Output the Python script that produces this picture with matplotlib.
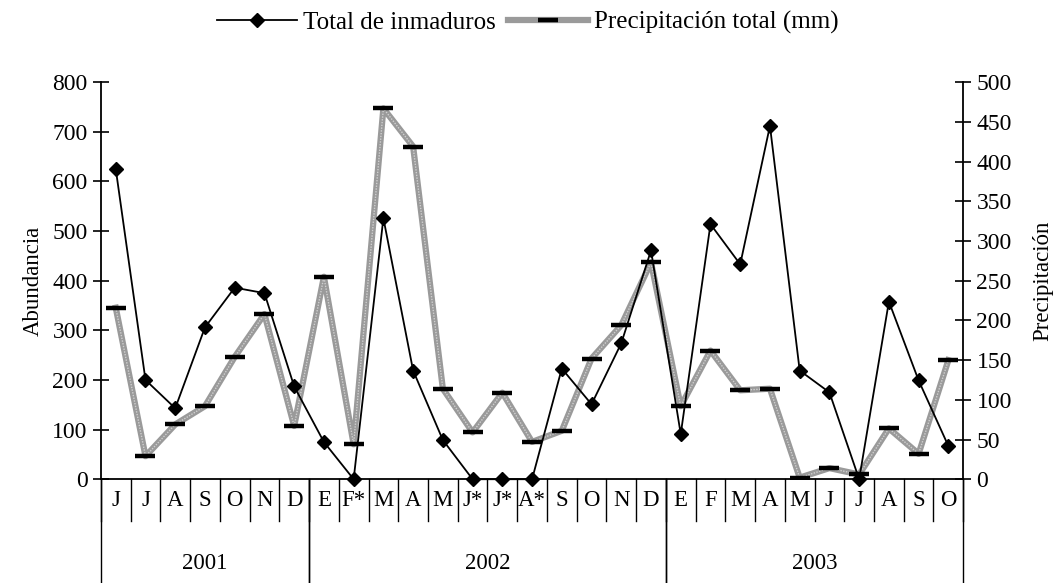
import matplotlib
matplotlib.use("Agg")
import matplotlib.pyplot as plt
from matplotlib.lines import Line2D

plt.rcParams['font.family'] = ['Liberation Serif', 'DejaVu Serif']

meses = ["J", "J", "A", "S", "O", "N", "D",
         "E", "F*", "M", "A", "M", "J*", "J*", "A*", "S", "O", "N", "D",
         "E", "F", "M", "A", "M", "J", "J", "A", "S", "O"]
anios = ["2001", "2002", "2003"]
meses_por_anio = [7, 12, 10]

inmaduros = [625, 200, 143, 306, 386, 375, 187,
             75, 0, 526, 219, 79, 0, 0, 0, 223, 151, 274, 461,
             91, 514, 433, 712, 219, 175, 0, 358, 199, 67]
precipitacion = [216, 29, 69, 92, 154, 208, 67,
                 255, 44, 467, 419, 114, 59, 109, 47, 61, 152, 194, 273,
                 92, 162, 112, 114, 2, 14, 6, 64, 32, 150]

x = list(range(len(meses)))
fs = 16.5

fig = plt.figure(figsize=(10.62, 5.83), dpi=100)
ax = fig.add_axes([0.095, 0.178, 0.812, 0.681])
ax2 = ax.twinx()

# precipitacion (eje derecho)
ax2.plot(x, precipitacion, color="#9a9a9a", lw=4.5, zorder=2)
ax2.plot(x, precipitacion, color="#d0d0d0", lw=1, ls=(0, (1, 1)), zorder=2)
ax2.plot(x, precipitacion, ls="none", marker="_", ms=15, mew=3.2, color="black", zorder=3)
ax2.set_ylim(0, 500)
ax2.set_yticks(range(0, 501, 50))
ax2.set_ylabel("Precipitación", fontsize=fs, labelpad=15)

# inmaduros (eje izquierdo) encima
ax.set_zorder(ax2.get_zorder() + 1)
ax.patch.set_visible(False)
ax.plot(x, inmaduros, color="black", lw=1.3, marker="D", ms=7.5, clip_on=False, zorder=4)
ax.set_ylim(0, 800)
ax.set_yticks(range(0, 801, 100))
ax.set_ylabel("Abundancia", fontsize=fs, labelpad=6)
ax.set_xlim(-0.5, len(meses) - 0.5)
ax.set_xticks([])

for a in (ax, ax2):
    a.spines['top'].set_visible(False)
    a.tick_params(axis='y', direction='inout', length=11, width=1.2, labelsize=17, pad=4)
    for s in a.spines.values():
        s.set_linewidth(1.3)
ax2.spines['left'].set_visible(False)
ax2.spines['bottom'].set_visible(False)
ax.spines['right'].set_visible(False)

# etiquetas de meses y años
tr = ax.get_xaxis_transform()
for i, m in enumerate(meses):
    ax.text(i, -0.053, m, transform=tr, ha="center", va="center", fontsize=fs)
for k in range(len(meses) + 1):
    ax.plot([k - 0.5, k - 0.5], [0, -0.106], transform=tr, color="black", lw=1, clip_on=False)

inicio = -0.5
for anio, n in zip(anios, meses_por_anio):
    fin = inicio + n
    ax.text((inicio + fin) / 2, -0.212, anio, transform=tr, ha="center", va="center", fontsize=fs)
    ax.plot([inicio, inicio], [0, -0.265], transform=tr, color="black", lw=1, clip_on=False)
    ax.plot([fin, fin], [0, -0.265], transform=tr, color="black", lw=1, clip_on=False)
    inicio = fin

# leyenda
h1 = Line2D([], [], color="black", lw=1.3, marker="D", ms=7)
h2 = Line2D([], [], color="#9a9a9a", lw=4.5, marker="_", ms=15, mew=3.2, mec="black")
fig.legend([h1, h2], ["Total de inmaduros", "Precipitación total (mm)"],
           loc="upper center", bbox_to_anchor=(0.497, 1.02), ncol=2, frameon=False,
           fontsize=18, handlelength=3.2, columnspacing=0.5, handletextpad=0.25)

fig.savefig("out.png", dpi=100)
